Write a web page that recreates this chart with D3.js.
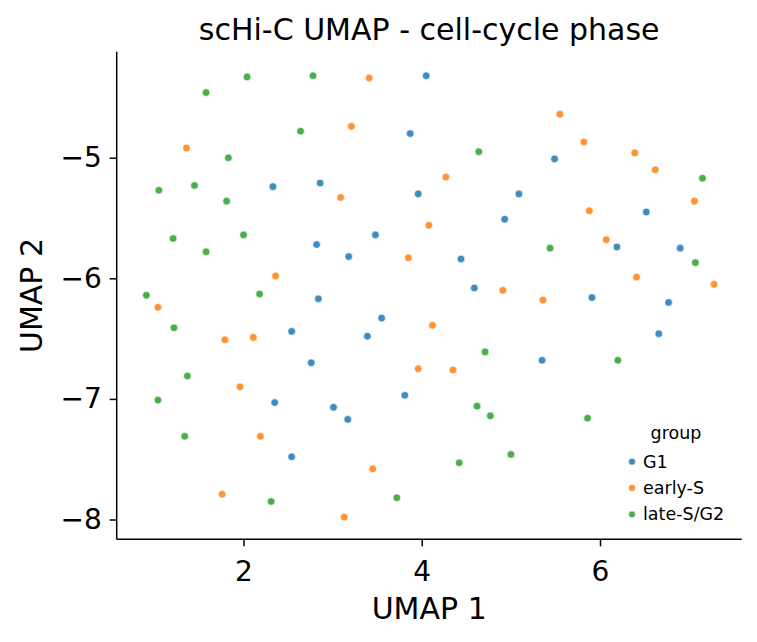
<!DOCTYPE html>
<html>
<head>
<meta charset="utf-8">
<script src="https://cdn.jsdelivr.net/npm/d3@7"></script>
<style>
  body { margin: 0; background: #fff; }
  svg text { font-family: "DejaVu Sans", sans-serif; fill: #000; }
</style>
</head>
<body>
<div id="chart"></div>
<script>
// umap coordinates per cell-cycle group
var g1X = [4.05, 3.87, 5.49, 2.33, 2.86, 3.96, 5.09, 6.52, 4.93, 2.82, 3.48, 6.19, 6.90, 3.18, 4.44,
           4.59, 2.84, 5.91, 6.77, 3.55, 2.54, 3.39, 6.66, 5.35, 2.76, 3.81, 2.35, 3.01, 3.17, 2.54]
var g1Y = [-4.32, -4.80, -5.01, -5.24, -5.21, -5.30, -5.30, -5.45, -5.51, -5.72, -5.64, -5.74, -5.75, -5.82, -5.84,
           -6.08, -6.17, -6.16, -6.20, -6.33, -6.44, -6.48, -6.46, -6.68, -6.70, -6.97, -7.03, -7.07, -7.17, -7.48]

var earlyX = [3.41, 3.21, 5.55, 5.82, 6.39, 1.36, 6.62, 4.27, 3.09, 7.06, 5.88, 4.08, 6.07, 3.85, 2.36,
              6.41, 7.28, 4.91, 5.36, 1.04, 4.12, 2.11, 1.79, 3.96, 4.35, 1.96, 2.19, 3.45, 1.76, 3.13]
var earlyY = [-4.34, -4.74, -4.64, -4.87, -4.96, -4.92, -5.10, -5.16, -5.33, -5.36, -5.44, -5.56, -5.68, -5.83, -5.98,
              -5.99, -6.05, -6.10, -6.18, -6.24, -6.39, -6.49, -6.51, -6.75, -6.76, -6.90, -7.31, -7.58, -7.79, -7.98]

var lateX = [2.04, 2.78, 1.58, 2.64, 4.64, 1.83, 7.15, 1.05, 1.45, 1.81, 1.21, 2.00, 5.44, 1.58, 7.07,
             0.91, 2.18, 1.22, 4.71, 6.20, 1.37, 1.04, 4.62, 4.77, 5.86, 1.34, 5.00, 4.42, 3.72, 2.31]
var lateY = [-4.33, -4.32, -4.46, -4.78, -4.95, -5.00, -5.17, -5.27, -5.23, -5.36, -5.67, -5.64, -5.75, -5.78, -5.87,
             -6.14, -6.13, -6.41, -6.61, -6.68, -6.81, -7.01, -7.06, -7.14, -7.16, -7.31, -7.46, -7.53, -7.82, -7.85]

var groups = ["G1", "early-S", "late-S/G2"]
var colors = ["#1f77b4", "#ff7f0e", "#2ca02c"]
var xTicks = [2, 4, 6]
var yTicks = [-5, -6, -7, -8]

const width = 757, height = 642
const margin = { top: 51.7, right: 15.3, bottom: 102.7, left: 116.7 }

const svg = d3.select("#chart").append("svg")
    .attr("width", width)
    .attr("height", height)

const x = d3.scaleLinear().domain([0.577, 7.59]).range([margin.left, width - margin.right])
const y = d3.scaleLinear().domain([-8.164, -4.121]).range([height - margin.bottom, margin.top])

var points = []
var sets = [[g1X, g1Y], [earlyX, earlyY], [lateX, lateY]]
sets.forEach((s, gi) => {
    s[0].forEach((v, i) => points.push({ x: v, y: s[1][i], g: gi }))
})

svg.append("g")
  .selectAll("circle")
  .data(points)
  .enter().append("circle")
    .attr("cx", d => x(d.x))
    .attr("cy", d => y(d.y))
    .attr("r", 3.8)
    .attr("fill", d => colors[d.g])
    .attr("fill-opacity", 0.85)
    .attr("stroke", "#fff")
    .attr("stroke-width", 0.6)

// axes (left + bottom only)
const xAxis = svg.append("g")
    .attr("transform", `translate(0, ${height - margin.bottom})`)
    .call(d3.axisBottom(x).tickValues(xTicks).tickSize(7).tickPadding(8).tickFormat(d3.format("d")))
const yAxis = svg.append("g")
    .attr("transform", `translate(${margin.left}, 0)`)
    .call(d3.axisLeft(y).tickValues(yTicks).tickSize(7).tickPadding(8).tickFormat(d => "\u2212" + Math.abs(d)))

;[xAxis, yAxis].forEach(a => {
    a.select(".domain").attr("stroke", "#000").attr("stroke-width", 1.5)
    a.selectAll(".tick line").attr("stroke", "#000").attr("stroke-width", 1.5)
    a.selectAll(".tick text").style("font-size", "28px").attr("fill", "#000")
})
xAxis.select(".domain").attr("d", `M${margin.left},0H${width - margin.right}`)
yAxis.select(".domain").attr("d", `M0,${margin.top}V${height - margin.bottom}`)
xAxis.selectAll(".tick text").attr("dy", "0.95em")

svg.append("text")
    .attr("x", (margin.left + width - margin.right) / 2)
    .attr("y", 40)
    .attr("text-anchor", "middle")
    .style("font-size", "30px")
    .text("scHi-C UMAP - cell-cycle phase")

svg.append("text")
    .attr("x", (margin.left + width - margin.right) / 2)
    .attr("y", 619)
    .attr("text-anchor", "middle")
    .style("font-size", "30px")
    .text("UMAP 1")

svg.append("text")
    .attr("transform", `translate(41.5, ${(margin.top + height - margin.bottom) / 2}) rotate(-90)`)
    .attr("text-anchor", "middle")
    .style("font-size", "30px")
    .text("UMAP 2")

// legend
const legend = svg.append("g").attr("transform", "translate(632, 0)")
legend.append("text")
    .attr("x", 44)
    .attr("y", 439)
    .attr("text-anchor", "middle")
    .style("font-size", "17.5px")
    .text("group")
groups.forEach((g, i) => {
    const ly = 461.7 + i * 26.3
    legend.append("circle")
        .attr("cx", 0).attr("cy", ly).attr("r", 3.4)
        .attr("fill", colors[i]).attr("fill-opacity", 0.85)
        .attr("stroke", "#fff").attr("stroke-width", 0.5)
    legend.append("text")
        .attr("x", 11).attr("y", ly + 6)
        .style("font-size", "17.5px")
        .text(g)
})
</script>
</body>
</html>
